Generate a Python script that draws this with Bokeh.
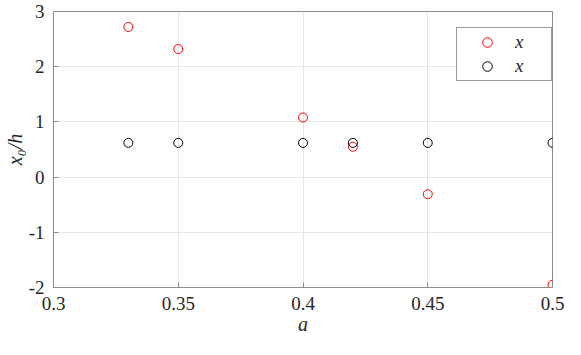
from bokeh.plotting import figure
from bokeh.models import (Range1d, FixedTicker, Legend, LegendItem, Label,
                          ColumnDataSource)
from bokeh.embed import file_html
from bokeh.resources import INLINE

# ---- data ----
a_values = [0.33, 0.35, 0.40, 0.42, 0.45, 0.50]
x0_A = [2.72, 2.32, 1.08, 0.55, -0.31, -1.95]
x0_E = [0.62, 0.62, 0.62, 0.62, 0.62, 0.62]
series_names = ["x", "x"]
series_subscripts = ["0,A", "0,E"]
x_ticks = [0.3, 0.35, 0.4, 0.45, 0.5]
x_tick_labels = ["0.3", "0.35", "0.4", "0.45", "0.5"]
y_ticks = [-2, -1, 0, 1, 2, 3]
y_tick_labels = ["-2", "-1", "0", "1", "2", "3"]
x_label = "a"
y_label = "x\u2080/h"

AXIS_COLOR = "#8c8c8c"
TEXT_COLOR = "#262626"
FONT = "Liberation Serif"

p = figure(width=565, height=339, output_backend="svg", toolbar_location=None,
           x_range=Range1d(x_ticks[0], x_ticks[-1]),
           y_range=Range1d(y_ticks[0], y_ticks[-1]),
           min_border_left=46, min_border_right=13, min_border_top=11,
           min_border_bottom=52)
p.outline_line_color = AXIS_COLOR
p.outline_line_width = 1
p.background_fill_color = "white"

for ax, ticks, labels in ((p.xaxis[0], x_ticks, x_tick_labels),
                          (p.yaxis[0], y_ticks, y_tick_labels)):
    ax.ticker = FixedTicker(ticks=ticks)
    ax.major_label_overrides = dict(zip(ticks, labels))
    ax.axis_line_color = AXIS_COLOR
    ax.major_tick_line_color = AXIS_COLOR
    ax.major_tick_in = 5
    ax.major_tick_out = 0
    ax.minor_tick_line_color = None
    ax.major_label_text_font = FONT
    ax.major_label_text_font_size = "19px"
    ax.major_label_text_color = TEXT_COLOR
    ax.major_label_standoff = 9
    ax.axis_label_text_font = FONT
    ax.axis_label_text_font_style = "italic"
    ax.axis_label_text_font_size = "20px"
    ax.axis_label_text_color = TEXT_COLOR
    ax.axis_label_standoff = 0

p.xaxis[0].axis_label = x_label
p.yaxis[0].axis_label = y_label

p.xgrid.grid_line_color = "#e6e6e6"
p.ygrid.grid_line_color = "#e6e6e6"

src = ColumnDataSource(dict(a=a_values, xa=x0_A, xe=x0_E))
rA = p.scatter("a", "xa", source=src, marker="circle", size=9,
               fill_color=None, line_color="#ff0000", line_width=1)
rE = p.scatter("a", "xe", source=src, marker="circle", size=9,
               fill_color=None, line_color="#000000", line_width=1)

legend = Legend(items=[LegendItem(label=series_names[0], renderers=[rA]),
                       LegendItem(label=series_names[1], renderers=[rE])],
                location=(403, 206), padding=2, spacing=0,
                glyph_width=56, glyph_height=24, label_height=24,
                label_width=34, label_standoff=0,
                label_text_font=FONT, label_text_font_style="italic",
                label_text_font_size="19px", label_text_color=TEXT_COLOR,
                border_line_color="#333333", border_line_width=1,
                background_fill_color="white", background_fill_alpha=1,
                margin=0)
p.add_layout(legend)

for sub, yy in zip(series_subscripts, (239, 215)):
    p.add_layout(Label(x=471, y=yy, x_units="screen", y_units="screen",
                       text=sub, text_font=FONT, text_font_size="13px",
                       text_color=TEXT_COLOR, text_baseline="middle"))

open("out.html", "w").write(file_html(p, INLINE))
